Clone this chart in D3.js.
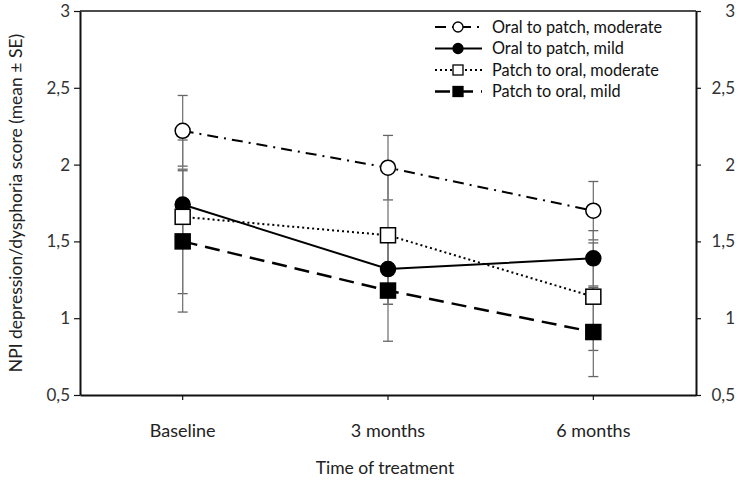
<!DOCTYPE html>
<html>
<head>
<meta charset="utf-8">
<script src="https://cdn.jsdelivr.net/npm/d3@7"></script>
<style>
  html, body { margin: 0; padding: 0; background: #fff; }
  svg { display: block; font-family: Lato, "Open Sans", sans-serif; }
</style>
</head>
<body>
<svg id="chart" width="739" height="485"></svg>
<script>
// ---- data ----
const categories = ["Baseline", "3 months", "6 months"];
const seriesNames = ["Oral to patch, moderate", "Oral to patch, mild", "Patch to oral, moderate", "Patch to oral, mild"];
const oralModerate = [2.22, 1.98, 1.70];
const oralModerateSE = [0.23, 0.21, 0.19];
const oralMild = [1.74, 1.32, 1.39];
const oralMildSE = [0.23, 0.23, 0.18];
const patchModerate = [1.66, 1.54, 1.14];
const patchModerateSE = [0.50, 0.45, 0.35];
const patchMild = [1.50, 1.18, 0.91];
const patchMildSE = [0.46, 0.33, 0.29];
const yTicks = [0.5, 1, 1.5, 2, 2.5, 3];
const yTitle = "NPI depression/dysphoria score (mean \u00b1 SE)";
const xTitle = "Time of treatment";

// ---- styles ----
const styles = [
  { shape: "circle", fill: "#fff", dash: "11,6,2,6", width: 2 },
  { shape: "circle", fill: "#000", dash: null, width: 2 },
  { shape: "square", fill: "#fff", dash: "2,3", width: 2 },
  { shape: "square", fill: "#000", dash: "15,8", width: 2.5 }
];
const series = [
  { name: seriesNames[0], values: oralModerate, se: oralModerateSE, style: styles[0] },
  { name: seriesNames[1], values: oralMild, se: oralMildSE, style: styles[1] },
  { name: seriesNames[2], values: patchModerate, se: patchModerateSE, style: styles[2] },
  { name: seriesNames[3], values: patchMild, se: patchMildSE, style: styles[3] }
];

const svg = d3.select("#chart");
const L = 80, R = 696, T = 11, B = 395;
const x = d3.scaleBand().domain(categories).range([L, R]);
const y = d3.scaleLinear().domain([0.5, 3]).range([B, T]);
const fmt = d => String(d).replace(".", ",");
const cx = c => x(c) + x.bandwidth() / 2;

// frame lines
svg.append("line").attr("x1", L).attr("x2", R).attr("y1", T).attr("y2", T)
  .attr("stroke", "#111").attr("stroke-width", 1.5);

// axes
const leftAxis = svg.append("g").attr("transform", `translate(${L},0)`)
  .call(d3.axisLeft(y).tickValues(yTicks).tickFormat(fmt).tickSize(6).tickPadding(4).tickSizeOuter(0));
const rightAxis = svg.append("g").attr("transform", `translate(${R},0)`)
  .call(d3.axisRight(y).tickValues(yTicks).tickFormat(fmt).tickSize(5).tickPadding(18).tickSizeOuter(0));
const bottomAxis = svg.append("g").attr("transform", `translate(0,${B})`)
  .call(d3.axisBottom(x).tickSize(5).tickPadding(24).tickSizeOuter(0));

[leftAxis, rightAxis, bottomAxis].forEach(g => {
  g.select(".domain").attr("stroke", "#111").attr("stroke-width", 2);
  g.selectAll(".tick line").attr("stroke", "#111").attr("stroke-width", 1.2);
  g.selectAll(".tick text").attr("fill", "#333").attr("font-size", 17).attr("font-family", "Lato, sans-serif");
});
bottomAxis.selectAll(".tick text").attr("fill", "#222").attr("font-size", 18);
rightAxis.selectAll(".tick text").attr("text-anchor", "end").attr("x", 39);

// axis titles
svg.append("text").attr("transform", `translate(22,${(T + B) / 2}) rotate(-90)`)
  .attr("text-anchor", "middle").attr("font-size", 17.5).attr("fill", "#222").text(yTitle);
svg.append("text").attr("x", 385).attr("y", 474).attr("text-anchor", "middle")
  .attr("font-size", 17.5).attr("fill", "#222").text(xTitle);

// error bars
const eb = svg.append("g");
series.forEach(s => {
  categories.forEach((c, i) => {
    const px = cx(c), hi = y(s.values[i] + s.se[i]), lo = y(s.values[i] - s.se[i]);
    eb.append("line").attr("x1", px).attr("x2", px).attr("y1", hi).attr("y2", lo)
      .attr("stroke", "#777").attr("stroke-width", 1.3);
    [hi, lo].forEach(v => eb.append("line").attr("x1", px - 5).attr("x2", px + 5).attr("y1", v).attr("y2", v)
      .attr("stroke", "#666").attr("stroke-width", 1.3));
  });
});

// lines
const line = d3.line().x((d, i) => cx(categories[i])).y(d => y(d));
series.forEach(s => {
  svg.append("path").datum(s.values).attr("d", line).attr("fill", "none")
    .attr("stroke", "#000").attr("stroke-width", s.style.width)
    .attr("stroke-dasharray", s.style.dash);
});

// markers
function marker(g, shape, fill, px, py) {
  if (shape === "circle") {
    g.append("circle").attr("cx", px).attr("cy", py).attr("r", 7.5)
      .attr("fill", fill).attr("stroke", "#000").attr("stroke-width", 1.5);
  } else {
    g.append("rect").attr("x", px - 7.5).attr("y", py - 7.5).attr("width", 15).attr("height", 15)
      .attr("fill", fill).attr("stroke", "#000").attr("stroke-width", 1.5);
  }
}
const mk = svg.append("g");
series.forEach(s => {
  s.values.forEach((v, i) => marker(mk, s.style.shape, s.style.fill, cx(categories[i]), y(v)));
});

// legend
const lg = svg.append("g");
series.forEach((s, i) => {
  const ly = 27 + i * 21.5;
  lg.append("line").attr("x1", 435).attr("x2", 482).attr("y1", ly).attr("y2", ly)
    .attr("stroke", "#000").attr("stroke-width", s.style.width)
    .attr("stroke-dasharray", s.style.dash);
  if (s.style.shape === "circle") {
    lg.append("circle").attr("cx", 458).attr("cy", ly).attr("r", 5)
      .attr("fill", s.style.fill).attr("stroke", "#000").attr("stroke-width", 1.3);
  } else {
    lg.append("rect").attr("x", 453).attr("y", ly - 5).attr("width", 10).attr("height", 10)
      .attr("fill", s.style.fill).attr("stroke", "#000").attr("stroke-width", 1.3);
  }
  lg.append("text").attr("x", 492).attr("y", ly).attr("dy", "0.35em")
    .attr("font-size", 16.3).attr("fill", "#111").text(s.name);
});
</script>
</body>
</html>
